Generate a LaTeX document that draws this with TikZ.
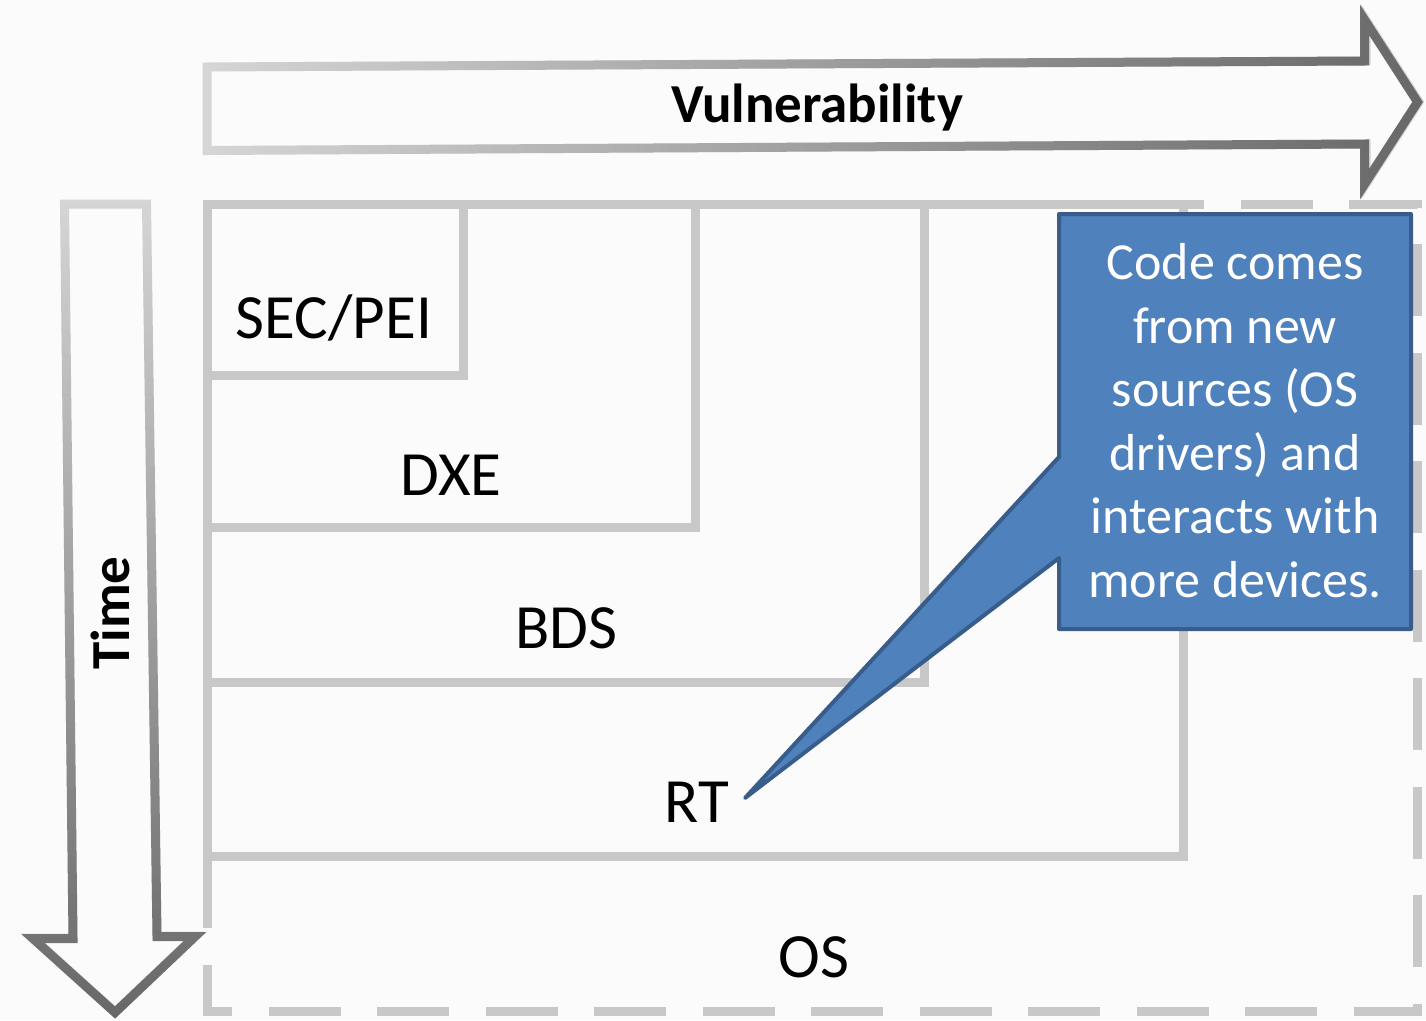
\documentclass[tikz,border=0pt]{standalone}
\usepackage{fontspec}
\setmainfont{Carlito}
\usetikzlibrary{fadings}
\definecolor{bg}{RGB}{251,251,251}
\definecolor{boxline}{RGB}{200,200,200}
\definecolor{arrowlight}{RGB}{214,214,214}
\definecolor{arrowdark}{RGB}{104,104,104}
\definecolor{calloutfill}{RGB}{79,129,189}
\definecolor{calloutline}{RGB}{56,93,138}
% grey outline darkens along the arrow's direction
\tikzfading[name=towardright, left color=transparent!100, right color=transparent!0]
\tikzfading[name=towardbottom, top color=transparent!100, bottom color=transparent!0]
\begin{document}
\begin{tikzpicture}[x=1pt,y=-1pt,
  phasebox/.style={draw=boxline, line width=9pt, line join=miter},
  osbox/.style={draw=boxline, line width=9pt, line join=miter,
    dash pattern=on 72pt off 36.5pt, dash phase=51.5pt},
  bigarrow/.style={line width=9pt, line join=miter},
  phaselabel/.style={font=\fontsize{63}{76}\selectfont, inner sep=0pt, anchor=base},
  arrowlabel/.style={font=\fontsize{55}{66}\selectfont\bfseries, inner sep=0pt, anchor=base},
  calloutshape/.style={fill=calloutfill, draw=calloutline, line width=4pt, line join=round},
  callouttext/.style={font=\fontsize{52}{63.5}\selectfont, text=white, align=center,
    inner sep=0pt, anchor=base},
]
\fill[bg] (0,0) rectangle (1426,1020);
\useasboundingbox (0,0) rectangle (1426,1020);

% nested boot phases
\draw[phasebox] (207,204) rectangle (1183.5,856);
\draw[phasebox] (207,204) rectangle (924.5,682.5);
\draw[phasebox] (207,204) rectangle (695.5,527.5);
\draw[phasebox] (207,204) rectangle (463.5,375);
\draw[osbox] (207,204) -- (1417.5,204) -- (1417.5,1011.5) -- (207,1011.5) -- cycle;

% vulnerability arrow
\def\vulnpath{(207,67) -- (1366,61) -- (1366,20) -- (1419,102) -- (1366,184) -- (1366,144) -- (207,150.5) -- cycle}
\draw[bigarrow, arrowlight] \vulnpath;
\draw[bigarrow, arrowdark, path fading=towardright] \vulnpath;

% time arrow
\def\timepath{(64.5,204) -- (146.5,204) -- (157,936) -- (195,936) -- (115,1012) -- (33,938) -- (73,938) -- cycle}
\draw[bigarrow, arrowlight] \timepath;
\draw[bigarrow, arrowdark, path fading=towardbottom] \timepath;

\node[arrowlabel] (vuln) at (817,122) {Vulnerability};
\node[arrowlabel, rotate=90] (time) at (129,613) {Time};

\node[phaselabel] (sec) at (334,338) {SEC/PEI};
\node[phaselabel] (dxe) at (451,495) {DXE};
\node[phaselabel] (bds) at (566,648) {BDS};
\node[phaselabel] (rt) at (697,822) {RT};
\node[phaselabel] (os) at (814,977) {OS};

% callout pointing at the runtime phase
\coordinate (tip) at (745,798);
\draw[calloutshape] (1059,214) -- (1411,214) -- (1411,629) -- (1059,629)
  -- (1059,558) -- (tip) -- (1059,457) -- cycle;
\node[callouttext] (note) at (1235,597)
  {Code comes\\from new\\sources (OS\\drivers) and\\interacts with\\more devices.};
\end{tikzpicture}
\end{document}
